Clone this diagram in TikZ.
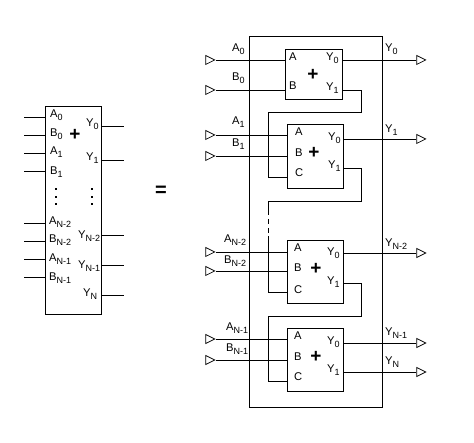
\documentclass[tikz,border=0pt]{standalone}
\usepackage{fontspec}
\setmainfont{Liberation Sans}
\usetikzlibrary{shapes.geometric}
\newcommand\subs[1]{\raisebox{-2.6pt}{\fontsize{9}{9}\selectfont #1}}
\tikzset{
  wire/.style={draw=black,line width=0.9pt},
  box/.style={draw=black,line width=0.9pt,fill=none,inner sep=0pt},
  lab/.style={anchor=base west,inner sep=0pt,font=\fontsize{11.2}{12}\selectfont},
  plussign/.style={inner sep=0pt,yshift=-1pt,font=\fontsize{19}{19}\selectfont\bfseries},
  tri/.style={draw=black,line width=0.7pt,isosceles triangle,isosceles triangle stretches,
     minimum width=9pt,minimum height=9pt,inner sep=0pt,shape border rotate=0},
  dotmark/.style={fill=black,inner sep=0pt,minimum width=1.6pt,minimum height=2pt}
}
\newcommand\lbl[4]{\node[lab] (#1) at (#2,#3) {#4};}
\newcommand\bx[5]{\node[box,anchor=north west,minimum width=#4pt,minimum height=#5pt] (#1) at (#2,#3) {};}
\begin{document}
\begin{tikzpicture}[x=1pt,y=-1pt]
\useasboundingbox (0,0) rectangle (474,443);
% ---------- left symbol
\bx{sym}{45}{106}{56}{208}
\foreach \n/\yy in {a/117,b/135,c/153,d/171,e/223,f/241,g/259,h/277}{
  \coordinate (in\n) at (24,\yy);
  \draw[wire] (in\n) -- (in\n -| sym.west);
}
\foreach \n/\yy in {a/126,b/160,c/235,d/265,e/295}{
  \coordinate (out\n) at (124,\yy);
  \draw[wire] (out\n -| sym.east) -- (out\n);
}
\lbl{sa0}{50}{118}{A\subs{0}}
\lbl{sb0}{50}{137}{B\subs{0}}
\lbl{sa1}{50}{155}{A\subs{1}}
\lbl{sb1}{50}{175}{B\subs{1}}
\lbl{san2}{49}{225}{A\subs{N-2}}
\lbl{sbn2}{49}{243}{B\subs{N-2}}
\lbl{san1}{49}{262}{A\subs{N-1}}
\lbl{sbn1}{49}{281}{B\subs{N-1}}
\lbl{sy0}{86}{127}{Y\subs{0}}
\lbl{sy1}{86}{161}{Y\subs{1}}
\lbl{syn2}{78}{239}{Y\subs{N-2}}
\lbl{syn1}{78}{269}{Y\subs{N-1}}
\lbl{syn}{83}{297}{Y\subs{N}}
\node[plussign] (splus) at (75,134) {+};
\foreach \k/\yy in {1/189.5,2/197,3/204.5}{
  \node[dotmark] (da\k) at (56,\yy) {};
  \node[dotmark] (db\k) at (92,\yy) {};
}
\node[inner sep=0pt,font=\fontsize{20}{20}\selectfont\bfseries] (eq) at (161,191) {=};
% ---------- right: outer box and blocks
\bx{outer}{249}{36}{133}{371}
\bx{b1}{285}{49}{57}{50}
\bx{b2}{286.5}{124}{56.5}{64}
\bx{b3}{286.5}{240}{56.5}{63}
\bx{b4}{286.5}{328}{56.5}{63}
% input terminals
\foreach \n/\b/\yy in {ia/b1/60,ib/b1/90,ic/b2/135,id/b2/156,ie/b3/252,jf/b3/271,ig/b4/339,ih/b4/360}{
  \node[tri] (\n) at (208.5,\yy) {};
  \draw[wire] (\n.apex) -- (\n.apex -| \b.west);
}
% output terminals
\foreach \n/\b/\yy in {oa/b1/60,ob/b2/139,oc/b3/253,od/b4/343,oe/b4/372}{
  \node[tri] (\n) at (419.5,\yy) {};
  \draw[wire] (\n.west -| \b.east) -- (\n.west);
}
% carry chains
\coordinate (c1) at (361,90);
\coordinate (c2) at (361,168);
\coordinate (c3) at (361,283);
\draw[wire] (c1 -| b1.east) -- (c1) -- (361,112) -- (268,112) -- (268,177) -- (268,177 -| b2.west);
\draw[wire] (c2 -| b2.east) -- (c2) -- (361,201) -- (268,201) -- (268,210);
\draw[wire,dash pattern=on 5pt off 4pt] (268,210) -- (268,236);
\draw[wire] (268,236) -- (268,292) -- (268,292 -| b3.west);
\draw[wire] (c3 -| b3.east) -- (c3) -- (361,316) -- (268,316) -- (268,381) -- (268,381 -| b4.west);
% outer labels, inputs
\lbl{la0}{232}{52}{A\subs{0}}
\lbl{lb0}{232}{81}{B\subs{0}}
\lbl{la1}{232}{125}{A\subs{1}}
\lbl{lb1}{232}{147}{B\subs{1}}
\lbl{lan2}{224}{243}{A\subs{N-2}}
\lbl{lbn2}{224}{264}{B\subs{N-2}}
\lbl{lan1}{226}{331}{A\subs{N-1}}
\lbl{lbn1}{226}{352}{B\subs{N-1}}
% outer labels, outputs
\lbl{ly0}{385}{52}{Y\subs{0}}
\lbl{ly1}{385}{133}{Y\subs{1}}
\lbl{lyn2}{385}{247}{Y\subs{N-2}}
\lbl{lyn1}{385}{336}{Y\subs{N-1}}
\lbl{lyn}{385}{365}{Y\subs{N}}
% block 1
\lbl{p1a}{289}{61}{A}
\lbl{p1b}{289}{90}{B}
\lbl{p1y0}{326}{61}{Y\subs{0}}
\lbl{p1y1}{326}{91}{Y\subs{1}}
\node[plussign] (p1p) at (313,74) {+};
% block 2
\lbl{p2a}{295}{136}{A}
\lbl{p2b}{295}{157}{B}
\lbl{p2c}{295}{177}{C}
\lbl{p2y0}{328}{141}{Y\subs{0}}
\lbl{p2y1}{328}{169}{Y\subs{1}}
\node[plussign] (p2p) at (314,152) {+};
% block 3
\lbl{p3a}{294}{252}{A}
\lbl{p3b}{294}{272}{B}
\lbl{p3c}{294}{294}{C}
\lbl{p3y0}{327}{256}{Y\subs{0}}
\lbl{p3y1}{327}{285}{Y\subs{1}}
\node[plussign] (p3p) at (316,268) {+};
% block 4
\lbl{p4a}{294}{340}{A}
\lbl{p4b}{294}{361}{B}
\lbl{p4c}{294}{381}{C}
\lbl{p4y0}{327}{345}{Y\subs{0}}
\lbl{p4y1}{327}{373}{Y\subs{1}}
\node[plussign] (p4p) at (316,356) {+};
\end{tikzpicture}
\end{document}
